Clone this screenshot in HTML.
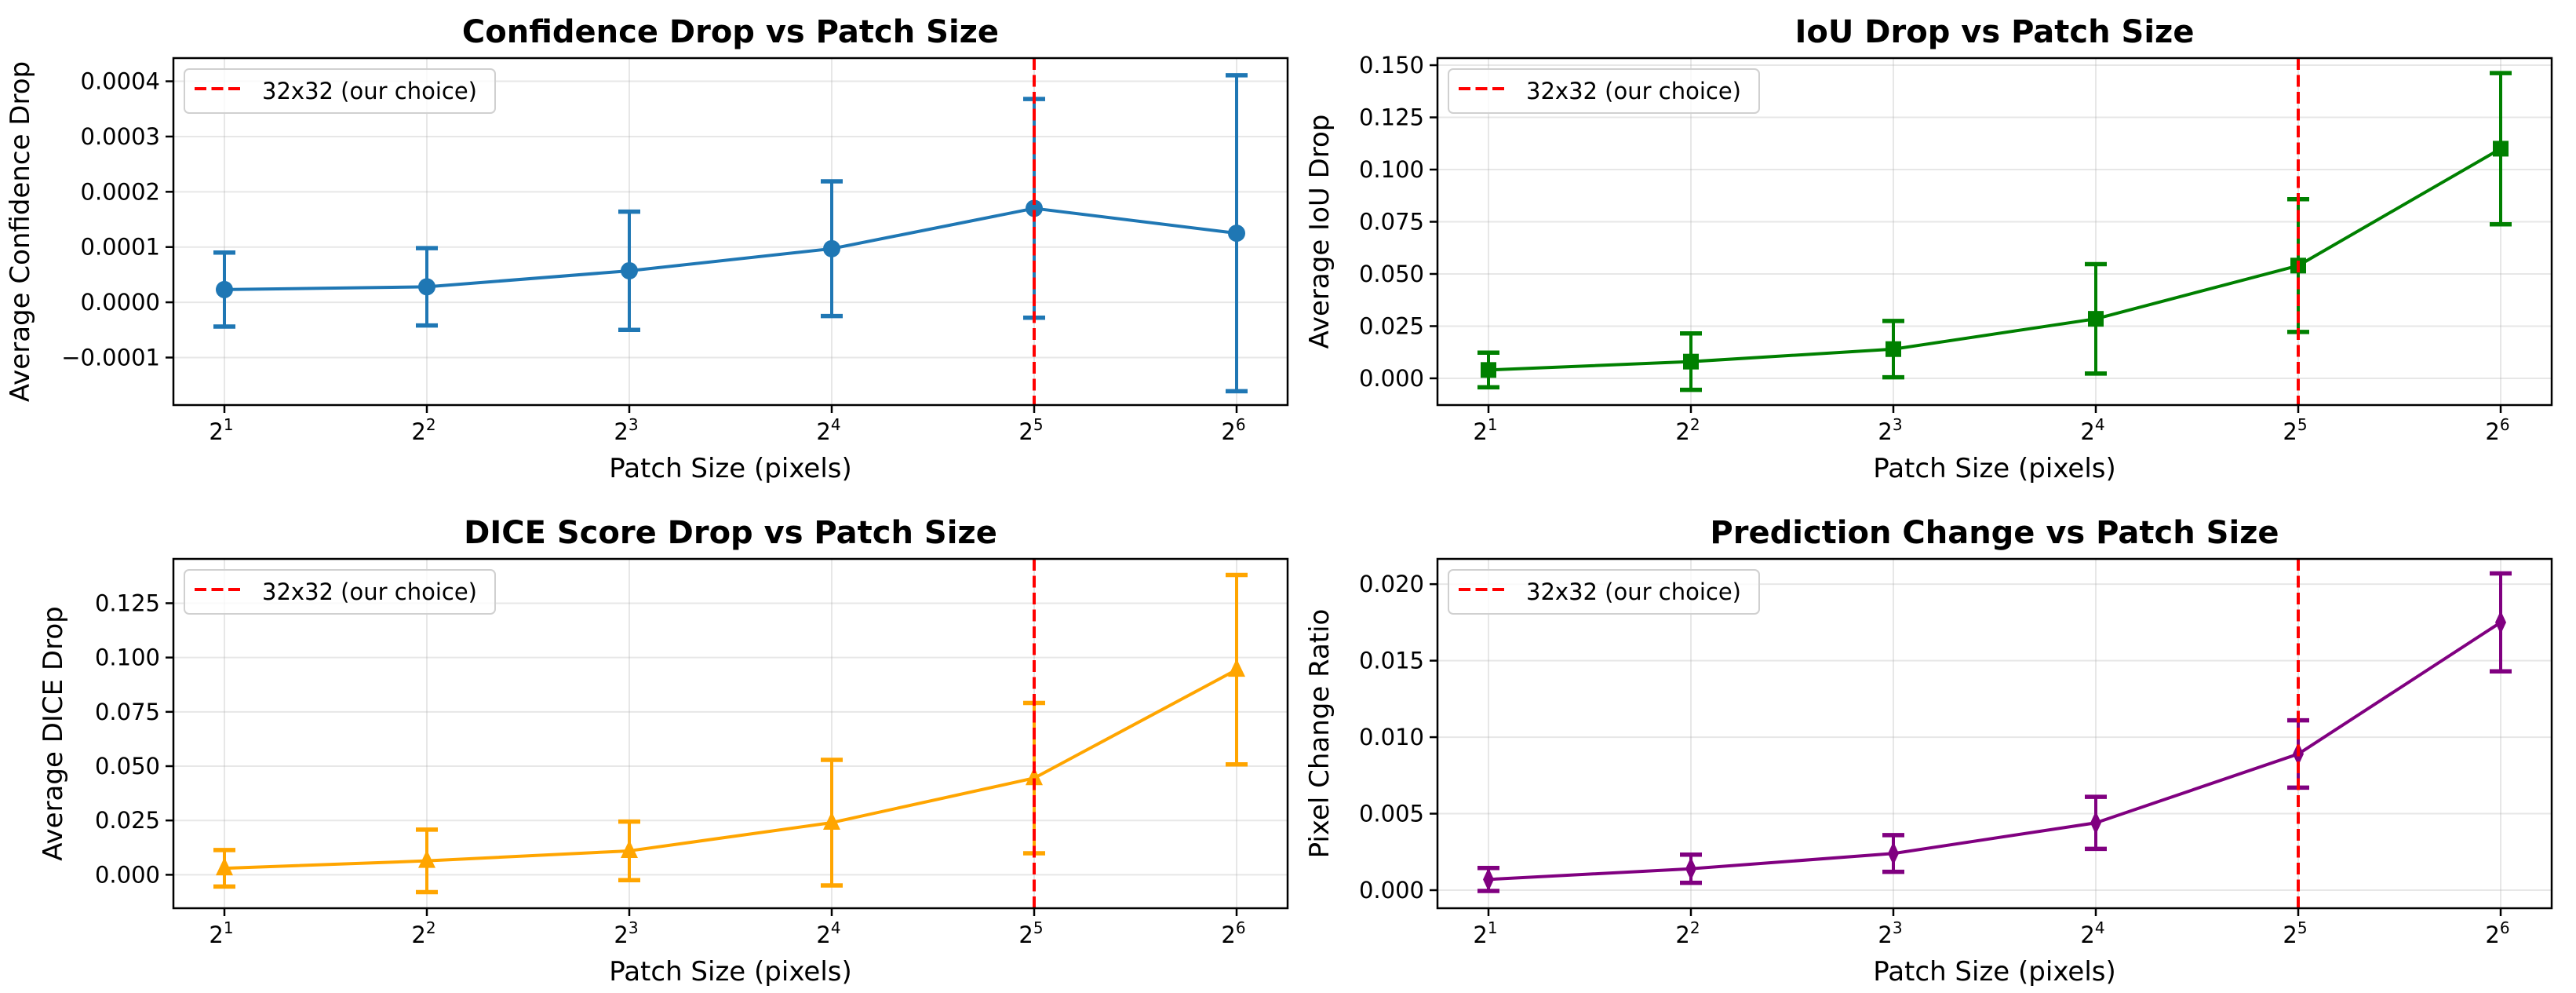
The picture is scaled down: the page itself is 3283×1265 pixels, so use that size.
<!DOCTYPE html>
<html><head><meta charset="utf-8"><style>
html,body{margin:0;padding:0;background:#fff;}
svg{display:block;font-family:"DejaVu Sans","Liberation Sans",sans-serif;}
</style></head><body>
<svg id="fig" width="3283" height="1265" viewBox="0 0 3283 1265" xmlns="http://www.w3.org/2000/svg"></svg>
<script>
// shared categories
const exponents = [1, 2, 3, 4, 5, 6];
const chosenExponent = 5;

// Confidence drop
const confMean = [0.000023, 0.000028, 0.000057, 0.000097, 0.000170, 0.000125];
const confStd  = [0.000067, 0.000070, 0.000107, 0.000122, 0.000198, 0.000286];
const confTicks = [-0.0001, 0.0000, 0.0001, 0.0002, 0.0003, 0.0004];
const confTickLabels = ["\u22120.0001", "0.0000", "0.0001", "0.0002", "0.0003", "0.0004"];

// IoU drop
const iouMean = [0.004, 0.008, 0.014, 0.0285, 0.054, 0.110];
const iouStd  = [0.0083, 0.0135, 0.0135, 0.0262, 0.0318, 0.0362];
const iouTicks = [0.000, 0.025, 0.050, 0.075, 0.100, 0.125, 0.150];
const iouTickLabels = ["0.000", "0.025", "0.050", "0.075", "0.100", "0.125", "0.150"];

// DICE drop
const diceMean = [0.003, 0.0064, 0.011, 0.024, 0.0445, 0.0944];
const diceStd  = [0.0084, 0.0144, 0.0135, 0.0289, 0.0346, 0.0436];
const diceTicks = [0.000, 0.025, 0.050, 0.075, 0.100, 0.125];
const diceTickLabels = ["0.000", "0.025", "0.050", "0.075", "0.100", "0.125"];

// Prediction change
const predMean = [0.0007, 0.0014, 0.0024, 0.0044, 0.0089, 0.0175];
const predStd  = [0.00075, 0.00092, 0.0012, 0.0017, 0.0022, 0.0032];
const predTicks = [0.000, 0.005, 0.010, 0.015, 0.020];
const predTickLabels = ["0.000", "0.005", "0.010", "0.015", "0.020"];

const NS = "http://www.w3.org/2000/svg";
const svg = document.getElementById("fig");
function mk(tag, attrs, parent) {
  const e = document.createElementNS(NS, tag);
  for (const k in attrs) e.setAttribute(k, attrs[k]);
  (parent || svg).appendChild(e);
  return e;
}

function panel(cfg) {
  const g = mk("g", {});
  
  
  const L = cfg.x0, R = cfg.x1, T = cfg.y0, B = cfg.y1;
  const xs = e => L + 65 + (e - 1) * ((R - L) - 130) / 5;
  const ys = v => B - (v - cfg.ymin) / (cfg.ymax - cfg.ymin) * (B - T);

  // grid
  exponents.forEach(e => {
    const l = mk("line", {x1: xs(e), x2: xs(e), y1: T, y2: B, stroke: "#b0b0b0", "stroke-opacity": 0.3, "stroke-width": 2}, g);
    
    
  });
  cfg.ticks.forEach(v => {
    const l = mk("line", {x1: L, x2: R, y1: ys(v), y2: ys(v), stroke: "#b0b0b0", "stroke-opacity": 0.3, "stroke-width": 2}, g);
    
    
  });

  // error bars
  exponents.forEach((e, i) => {
    const x = xs(e), hi = ys(cfg.mean[i] + cfg.std[i]), lo = ys(cfg.mean[i] - cfg.std[i]);
    const eb = mk("g", {}, g);
    
    
    mk("line", {x1: x, x2: x, y1: hi, y2: lo, stroke: cfg.color, "stroke-width": 4}, eb);
    mk("line", {x1: x - 14, x2: x + 14, y1: hi, y2: hi, stroke: cfg.color, "stroke-width": 5.5}, eb);
    mk("line", {x1: x - 14, x2: x + 14, y1: lo, y2: lo, stroke: cfg.color, "stroke-width": 5.5}, eb);
  });

  // line
  const pts = exponents.map((e, i) => xs(e) + "," + ys(cfg.mean[i])).join(" ");
  const pl = mk("polyline", {points: pts, fill: "none", stroke: cfg.color, "stroke-width": 4, "stroke-linejoin": "round"}, g);
  
  

  // markers
  exponents.forEach((e, i) => {
    const x = xs(e), y = ys(cfg.mean[i]);
    let m;
    if (cfg.marker === "o") m = mk("circle", {cx: x, cy: y, r: 11, fill: cfg.color}, g);
    else if (cfg.marker === "s") m = mk("rect", {x: x - 10, y: y - 10, width: 20, height: 20, fill: cfg.color}, g);
    else if (cfg.marker === "^") m = mk("polygon", {points: `${x},${y-14} ${x-11},${y+9} ${x+11},${y+9}`, fill: cfg.color}, g);
    else m = mk("polygon", {points: `${x},${y-15} ${x-7},${y} ${x},${y+15} ${x+7},${y}`, fill: cfg.color}, g);
    
    
  });

  // red dashed reference line
  const rl = mk("line", {x1: xs(chosenExponent), x2: xs(chosenExponent), y1: T, y2: B, stroke: "#ff0000", "stroke-width": 4, "stroke-dasharray": "15,6.5"}, g);
  
  

  // frame
  const fr = mk("rect", {x: L, y: T, width: R - L, height: B - T, fill: "none", stroke: "#000", "stroke-width": 2.5}, g);
  
  

  // y ticks
  cfg.ticks.forEach((v, i) => {
    mk("line", {x1: L - 10, x2: L, y1: ys(v), y2: ys(v), stroke: "#000", "stroke-width": 2.5}, g);
    const t = mk("text", {x: L - 17, y: ys(v) + 10, "text-anchor": "end", "font-size": 29}, g);
    t.textContent = cfg.labels[i];
    
    
  });
  // x ticks
  exponents.forEach(e => {
    mk("line", {x1: xs(e), x2: xs(e), y1: B, y2: B + 10, stroke: "#000", "stroke-width": 2.5}, g);
    const t = mk("text", {x: xs(e) - 4, y: B + 44, "text-anchor": "middle", "font-size": 29}, g);
    
    
    t.textContent = "2";
    const s = mk("tspan", {"font-size": 20, dy: -12}, t);
    s.textContent = String(e);
  });

  // axis labels
  const xl = mk("text", {x: (L + R) / 2, y: B + 92, "text-anchor": "middle", "font-size": 34}, g);
  xl.textContent = "Patch Size (pixels)";
  
  
  const yl = mk("text", {x: 0, y: 0, "text-anchor": "middle", "font-size": 34, transform: `translate(${cfg.ylx},${(T + B) / 2}) rotate(-90)`}, g);
  yl.textContent = cfg.ylabel;
  
  

  // title
  const ti = mk("text", {x: (L + R) / 2, y: T - 20, "text-anchor": "middle", "font-size": 40, "font-weight": "bold"}, g);
  ti.textContent = cfg.title;
  
  

  // legend
  const lg = mk("g", {}, g);
  
  
  mk("rect", {x: L + 14, y: T + 14, width: 396, height: 56, rx: 6, fill: "#fff", "fill-opacity": 0.8, stroke: "#d0d0d0", "stroke-width": 2}, lg);
  mk("line", {x1: L + 27, x2: L + 87, y1: T + 39, y2: T + 39, stroke: "#ff0000", "stroke-width": 4, "stroke-dasharray": "15,6.5"}, lg);
  const lt = mk("text", {x: L + 113, y: T + 52, "font-size": 29}, lg);
  lt.textContent = "32x32 (our choice)";
}

panel({name: "confidence-drop-panel", title: "Confidence Drop vs Patch Size", ylabel: "Average Confidence Drop",
  x0: 221, x1: 1641, y0: 74, y1: 516, ymin: -0.000186, ymax: 0.000442, ylx: 37,
  mean: confMean, std: confStd, ticks: confTicks, labels: confTickLabels, color: "#1f77b4", marker: "o"});
panel({name: "iou-drop-panel", title: "IoU Drop vs Patch Size", ylabel: "Average IoU Drop",
  x0: 1832, x1: 3252, y0: 74, y1: 516, ymin: -0.0128, ymax: 0.1534, ylx: 1693,
  mean: iouMean, std: iouStd, ticks: iouTicks, labels: iouTickLabels, color: "#008000", marker: "s"});
panel({name: "dice-drop-panel", title: "DICE Score Drop vs Patch Size", ylabel: "Average DICE Drop",
  x0: 221, x1: 1641, y0: 712, y1: 1157, ymin: -0.0154, ymax: 0.1454, ylx: 79,
  mean: diceMean, std: diceStd, ticks: diceTicks, labels: diceTickLabels, color: "#ffa500", marker: "^"});
panel({name: "prediction-change-panel", title: "Prediction Change vs Patch Size", ylabel: "Pixel Change Ratio",
  x0: 1832, x1: 3252, y0: 712, y1: 1157, ymin: -0.00118, ymax: 0.02165, ylx: 1693,
  mean: predMean, std: predStd, ticks: predTicks, labels: predTickLabels, color: "#800080", marker: "d"});
</script>
</body></html>
